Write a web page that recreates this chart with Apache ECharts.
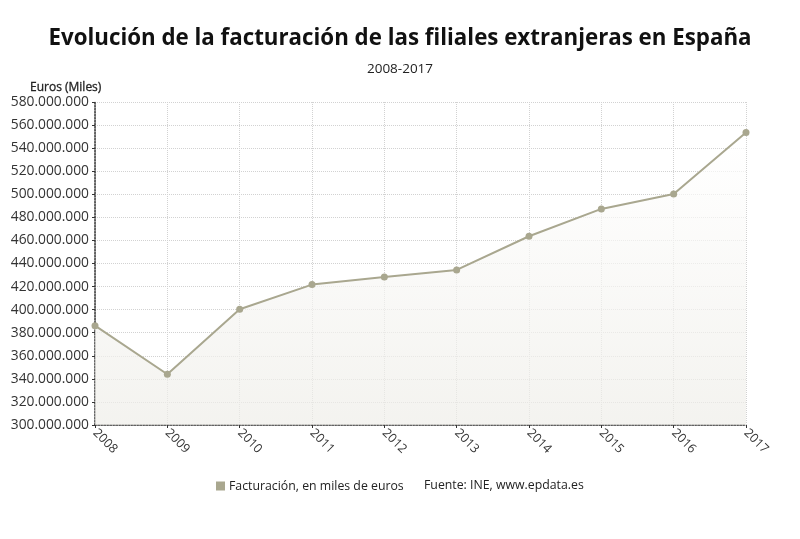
<!DOCTYPE html>
<html>
<head>
<meta charset="utf-8">
<script src="https://cdn.jsdelivr.net/npm/echarts@6/dist/echarts.min.js"></script>
<style>
  html, body { margin: 0; padding: 0; background: #fff; }
  #chart { width: 800px; height: 539px; }
</style>
</head>
<body>
<div id="chart"></div>
<script>
// datos
var years = ['2008', '2009', '2010', '2011', '2012', '2013', '2014', '2015', '2016', '2017'];
var facturacion = [386100000, 344000000, 400400000, 421700000, 428300000, 434400000, 463600000, 487300000, 500300000, 553500000];
var yMin = 300000000;
var yMax = 580000000;
var yStep = 20000000;

var chart = echarts.init(document.getElementById('chart'));
var textColor = '#333';
var lineColor = '#a9a78f';
var font = '"Open Sans", "Noto Sans", sans-serif';

function fmt (v) {
  return String(v).replace(/\B(?=(\d{3})+(?!\d))/g, '.');
}

var option = {
  animation: false,
  textStyle: { fontFamily: font },
  title: [{
    text: 'Evolución de la facturación de las filiales extranjeras en España',
    left: 'center',
    top: 23,
    textStyle: { fontSize: 22.3, fontWeight: 'bold', color: '#111', fontFamily: font }
  }, {
    text: '2008-2017',
    left: 'center',
    top: 57,
    textStyle: { fontSize: 13.5, fontWeight: 'normal', color: '#222', fontFamily: font }
  }, {
    text: 'Euros (Miles)',
    left: 25,
    top: 77,
    textStyle: { fontSize: 12, fontWeight: 'normal', color: '#222', fontFamily: font, textBorderColor: '#222', textBorderWidth: 0.3 }
  }, {
    text: 'Fuente: INE, www.epdata.es',
    left: 419,
    top: 474,
    textStyle: { fontSize: 12.3, fontWeight: 'normal', color: '#222', fontFamily: font }
  }],
  legend: {
    left: 211,
    top: 475,
    itemWidth: 9,
    itemHeight: 9,
    itemGap: 5,
    icon: 'rect',
    textStyle: { fontSize: 12.3, color: '#222', fontFamily: font, padding: [0, 0, 0, -1] },
    data: [{ name: 'Facturación, en miles de euros', itemStyle: { color: lineColor } }]
  },
  grid: {
    left: 95,
    right: 54,
    top: 102,
    bottom: 114
  },
  xAxis: {
    type: 'category',
    boundaryGap: false,
    data: years,
    axisLine: { lineStyle: { color: '#333', type: 'dotted', width: 1.5 } },
    axisTick: { show: true, length: 3, lineStyle: { color: '#333' } },
    axisLabel: { rotate: -45, color: textColor, fontSize: 12.5, margin: 6, fontFamily: font },
    splitLine: { show: true, lineStyle: { color: '#d2d2d2', type: 'dotted' } }
  },
  yAxis: {
    type: 'value',
    min: yMin,
    max: yMax,
    interval: yStep,
    axisLine: { show: true, lineStyle: { color: '#333', type: 'dotted', width: 1.5 } },
    axisTick: { show: true, length: 3, lineStyle: { color: '#333' } },
    axisLabel: { color: textColor, fontSize: 13.8, margin: 6, formatter: fmt, fontFamily: font },
    splitLine: { lineStyle: { color: '#d2d2d2', type: 'dotted' } }
  },
  series: [{
    name: 'Facturación, en miles de euros',
    type: 'line',
    data: facturacion,
    symbol: 'circle',
    symbolSize: 7,
    lineStyle: { color: lineColor, width: 2 },
    itemStyle: { color: lineColor },
    areaStyle: {
      color: new echarts.graphic.LinearGradient(0, 0, 0, 1, [{
        offset: 0,
        color: 'rgba(255,255,255,1)'
      }, {
        offset: 1,
        color: '#eeede8'
      }])
    }
  }]
};
chart.setOption(option, true);
</script>
</body>
</html>
